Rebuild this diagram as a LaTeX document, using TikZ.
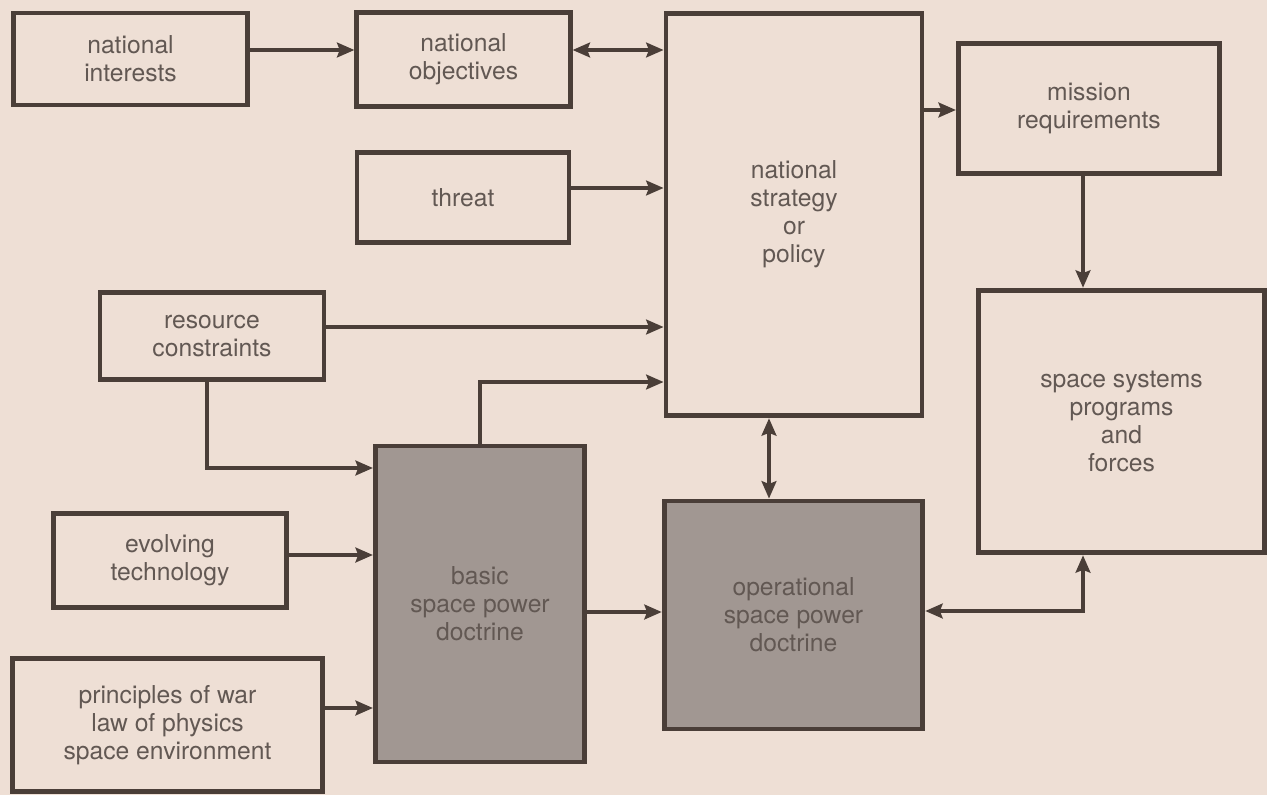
\documentclass[tikz,border=0pt]{standalone}
\usepackage{fontspec}
\setmainfont{TeX Gyre Heros}
\usepackage{xcolor}
\usetikzlibrary{arrows.meta}

\definecolor{paper}{RGB}{238,223,213}
\definecolor{ink}{RGB}{74,62,56}
\definecolor{shade}{RGB}{161,151,146}
\definecolor{txt}{RGB}{98,88,83}

\begin{document}
\begin{tikzpicture}[x=0.75pt,y=0.75pt,yscale=-1,
    box/.style={draw=ink, line width=3.6pt, fill=paper, text=txt, align=center,
      inner sep=0pt, font=\fontsize{18.5}{21}\selectfont},
    dark/.style={box, fill=shade},
    conn/.style={draw=ink, line width=3pt, -{Stealth[length=13pt,width=11pt,inset=2pt]}},
    both/.style={conn, {Stealth[length=13pt,width=11pt,inset=2pt]}-{Stealth[length=13pt,width=11pt,inset=2pt]}}]
            %set diagram size 1267 x 795
            \fill[paper] (0,0) rectangle (1267,795);
            \useasboundingbox (0,0) rectangle (1267,795);

            % Boxes
            \node[box, minimum width=176pt, minimum height=69pt] (interests) at (130.5,59) {national\\interests};
            \node[box, minimum width=160pt, minimum height=70pt] (objectives) at (463.5,59.5) {national\\objectives};
            \node[box, minimum width=159pt, minimum height=67pt] (threat) at (463,197.5) {threat};
            \node[box, minimum width=192pt, minimum height=302pt] (strategy) at (794,214.5) {national\\strategy\\or\\policy};
            \node[box, minimum width=196pt, minimum height=97pt] (mission) at (1089,108.5) {mission\\requirements};
            \node[box, minimum width=215pt, minimum height=197pt] (systems) at (1121.5,421.5) {space systems\\programs\\and\\forces};
            \node[box, minimum width=168pt, minimum height=65pt] (resource) at (212,336) {resource\\constraints};
            \node[dark, minimum width=157pt, minimum height=237pt] (basic) at (480,604) {basic\\space power\\doctrine};
            \node[dark, minimum width=194pt, minimum height=171pt] (oper) at (793.5,615) {operational\\space power\\doctrine};
            \node[box, minimum width=175pt, minimum height=70pt] (evolving) at (170,560.5) {evolving\\technology};
            \node[box, minimum width=232pt, minimum height=100pt] (principles) at (167.5,725) {principles of war\\law of physics\\space environment};

            % Connectors into national strategy
            \draw[conn] (interests.east |- 0,50) -- (objectives.west |- 0,50);
            \draw[both] (objectives.east |- 0,50) -- (strategy.west |- 0,50);
            \draw[conn] (threat.east |- 0,188) -- (strategy.west |- 0,188);
            \draw[conn] (resource.east |- 0,327) -- (strategy.west |- 0,327);
            \draw[conn] (basic.north) |- (strategy.west |- 0,382);

            % Connectors into basic doctrine
            \draw[conn] (resource.south -| 207,0) |- (basic.west |- 0,468);
            \draw[conn] (evolving.east |- 0,555) -- (basic.west |- 0,555);
            \draw[conn] (principles.east |- 0,708) -- (basic.west |- 0,708);

            % Right part
            \draw[conn] (basic.east |- 0,612) -- (oper.west |- 0,612);
            \draw[both] (strategy.south -| 769,0) -- (oper.north -| 769,0);
            \draw[conn] (strategy.east |- 0,110) -- (mission.west |- 0,110);
            \draw[conn] (mission.south -| 1083,0) -- (systems.north -| 1083,0);
            \draw[both] (oper.east |- 0,611) -| (systems.south -| 1083,0);

        \end{tikzpicture}
\end{document}
